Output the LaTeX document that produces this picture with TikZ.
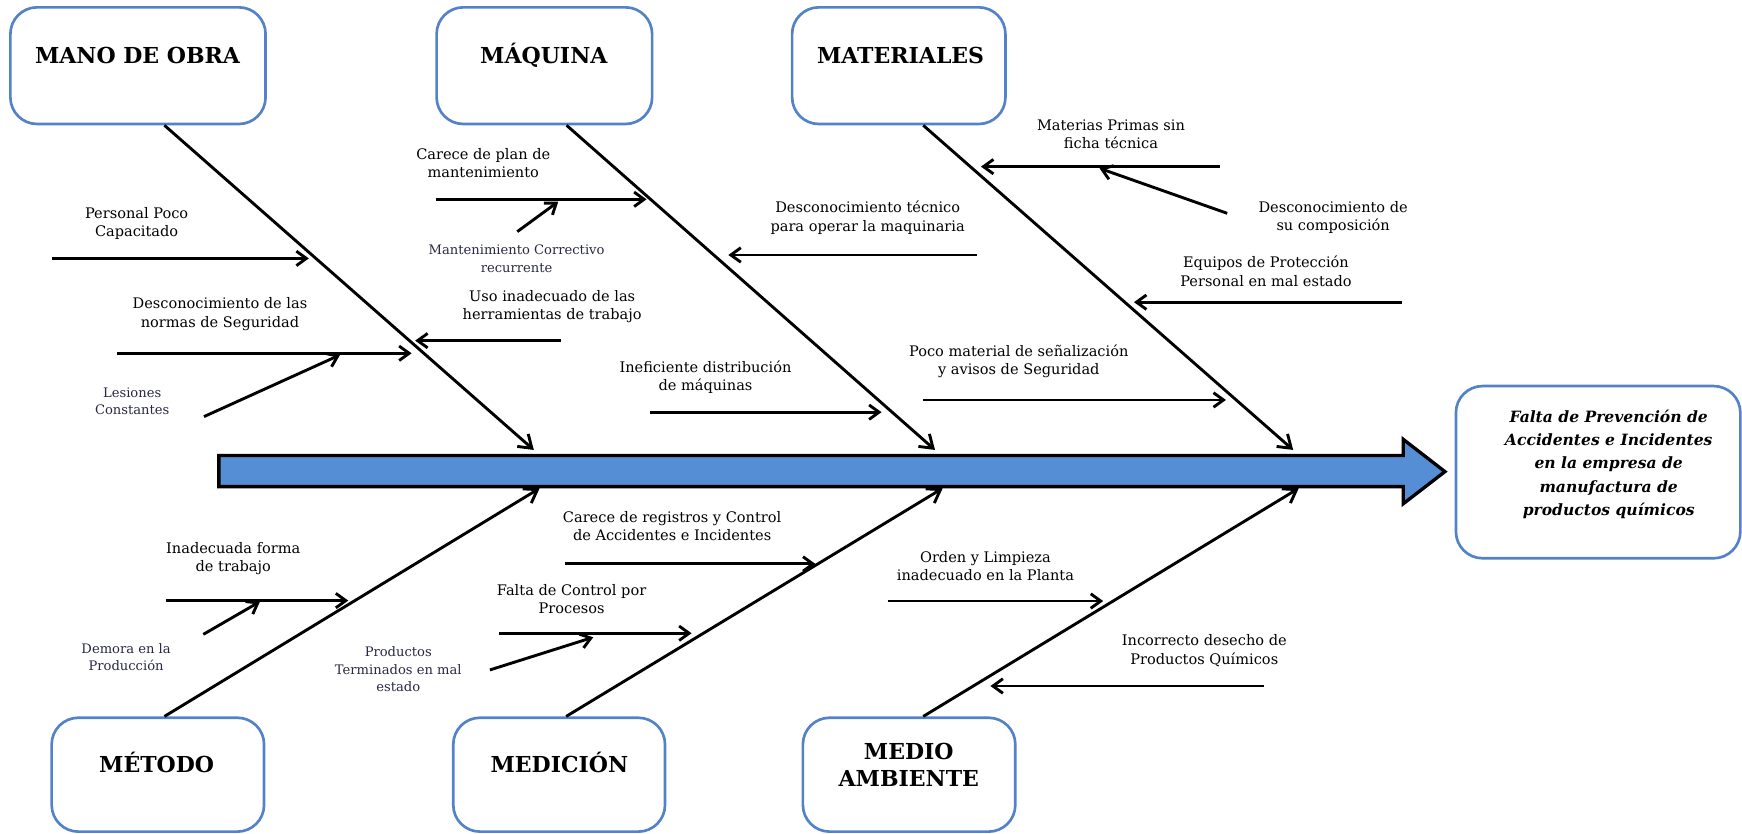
\documentclass[tikz,border=0pt]{standalone}
\usepackage{fontspec}
\setmainfont{DejaVu Serif}
\usetikzlibrary{arrows.meta}
\definecolor{boxblue}{RGB}{84,130,200}
\definecolor{spineblue}{RGB}{85,142,213}
\definecolor{smalltxt}{RGB}{40,40,70}
\begin{document}
\begin{tikzpicture}[x=1pt,y=-1pt,
  catbox/.style={draw=boxblue, line width=2.4pt, rounded corners=24pt, inner sep=0pt, minimum height=105pt},
  lowbox/.style={catbox, minimum height=102.5pt},
  title/.style={font=\fontsize{19.8}{24.6}\selectfont\bfseries, inner sep=0pt, align=center},
  lbl/.style={font=\fontsize{13.1}{16.5}\selectfont, inner sep=0pt, align=center},
  small/.style={font=\fontsize{11.8}{15.6}\selectfont, text=smalltxt, inner sep=0pt, align=center},
  bone/.style={line width=2.6pt, -{Straight Barb[length=11pt,width=15pt]}},
  cause/.style={line width=2.6pt, -{Straight Barb[length=9pt,width=13pt]}},
  restxt/.style={font=\fontsize{14}{21}\selectfont\bfseries\itshape, inner sep=0pt, align=center}
]
\useasboundingbox (0,0) rectangle (1568,750);

% category boxes
\node[catbox, minimum width=229.7pt] (mano) at (124.2,59.1) {};
\node[catbox, minimum width=194pt] (maq) at (490,59.1) {};
\node[catbox, minimum width=192pt] (mat) at (809,59.1) {};
\node[lowbox, minimum width=191.2pt] (metodo) at (142.1,697.3) {};
\node[lowbox, minimum width=190.6pt] (medicion) at (503.3,697.3) {};
\node[lowbox, minimum width=191.2pt] (medio) at (818.3,697.3) {};
\node[catbox, minimum width=256pt, minimum height=155pt] (result) at (1438.5,425) {};

% titles
\node[title, anchor=base] (tmano) at (123.8,57) {MANO DE OBRA};
\node[title, anchor=base] (tmaq) at (489.5,57) {MÁQUINA};
\node[title, anchor=base] (tmat) at (810.6,57) {MATERIALES};
\node[title, anchor=base] (tmet) at (141,695.5) {MÉTODO};
\node[title, anchor=base] (tmed) at (503.5,695.5) {MEDICIÓN};
\node[title] (tmedio) at (818,688.2) {MEDIO\\AMBIENTE};
\node[restxt] (tres) at (1448,418) {Falta de Prevención de\\Accidentes e Incidentes\\en la empresa de\\manufactura de\\productos químicos};

% spine
\draw[line width=3pt, fill=spineblue, line join=miter] (197,410) -- (1263,410) -- (1263,395.4) -- (1300.6,424.5) -- (1263,453.5) -- (1263,438) -- (197,438) -- cycle;

% branch ends
\coordinate (manoS) at ([xshift=23.8pt]mano.south);
\coordinate (maqS) at ([xshift=20pt]maq.south);
\coordinate (matS) at ([xshift=22pt]mat.south);
\coordinate (metN) at ([xshift=5.9pt]metodo.north);
\coordinate (medN) at ([xshift=6.3pt]medicion.north);
\coordinate (medioN) at ([xshift=12.7pt]medio.north);
\coordinate (e1) at (480.5,405);
\coordinate (e2) at (841.6,405);
\coordinate (e3) at (1164,405);
\coordinate (e4) at (485.7,439.5);
\coordinate (e5) at (848.5,439.5);
\coordinate (e6) at (1169,439.5);
\draw[bone] (manoS) -- (e1);
\draw[bone] (maqS) -- (e2);
\draw[bone] (matS) -- (e3);
\draw[bone] (metN) -- (e4);
\draw[bone] (medN) -- (e5);
\draw[bone] (medioN) -- (e6);

% MANO DE OBRA causes
\node[lbl] (l1) at (123,201) {Personal Poco\\Capacitado};
\coordinate (a1s) at (46.5,232.6); \coordinate (a1e) at (278,232.6);
\draw[cause] (a1s) -- (a1e);
\node[lbl] (l2) at (198,282.7) {Desconocimiento de las\\normas de Seguridad};
\coordinate (a2s) at (105,318); \coordinate (a2e) at (370.5,318);
\draw[cause] (a2s) -- (a2e);
\node[small] (l3) at (119,361.2) {Lesiones\\Constantes};
\coordinate (a3s) at (183.6,375); \coordinate (a3e) at (306,319.5);
\draw[cause] (a3s) -- (a3e);

% MAQUINA causes
\node[lbl] (l4) at (435,147) {Carece de plan de\\mantenimiento};
\coordinate (a4s) at (392.4,179.4); \coordinate (a4e) at (582,179.4);
\draw[cause] (a4s) -- (a4e);
\node[small] (l5) at (465,233) {Mantenimiento Correctivo\\recurrente};
\coordinate (a5s) at (465.6,208.5); \coordinate (a5e) at (502.5,181.5);
\draw[cause] (a5s) -- (a5e);
\node[lbl] (l6) at (497,276) {Uso inadecuado de las\\herramientas de trabajo};
\coordinate (a6s) at (504.6,306.6); \coordinate (a6e) at (373.7,306.6);
\draw[cause] (a6s) -- (a6e);
\node[lbl] (l7) at (781,195.8) {Desconocimiento técnico\\para operar la maquinaria};
\coordinate (a7s) at (879,229.5); \coordinate (a7e) at (655.6,229.5);
\draw[cause] (a7s) -- (a7e);
\node[lbl] (l8) at (635,339.7) {Ineficiente distribución\\de máquinas};
\coordinate (a8s) at (585,371); \coordinate (a8e) at (793.5,371);
\draw[cause] (a8s) -- (a8e);

% MATERIALES causes
\node[lbl] (l9) at (1000,120.7) {Materias Primas sin\\ficha técnica};
\coordinate (a9s) at (1098,150); \coordinate (a9e) at (883,150);
\draw[cause] (a9s) -- (a9e);
\node[lbl] (l10) at (1200,195.7) {Desconocimiento de\\su composición};
\coordinate (a10s) at (1104.6,192); \coordinate (a10e) at (989.7,151.5);
\draw[cause] (a10s) -- (a10e);
\node[lbl] (l11) at (1139.5,244.3) {Equipos de Protección\\Personal en mal estado};
\coordinate (a11s) at (1262,272); \coordinate (a11e) at (1020.7,272);
\draw[cause] (a11s) -- (a11e);
\node[lbl] (l12) at (917,325.3) {Poco material de señalización\\y avisos de Seguridad};
\coordinate (a12s) at (831,360); \coordinate (a12e) at (1103.5,360);
\draw[cause] (a12s) -- (a12e);

% METODO causes
\node[lbl] (l13) at (210,503) {Inadecuada forma\\de trabajo};
\coordinate (a13s) at (149.4,540.6); \coordinate (a13e) at (313.5,540.6);
\draw[cause] (a13s) -- (a13e);
\node[small] (l14) at (113.5,591.3) {Demora en la\\Producción};
\coordinate (a14s) at (183,571); \coordinate (a14e) at (234,541.5);
\draw[cause] (a14s) -- (a14e);

% MEDICION causes
\node[lbl] (l15) at (605,473.8) {Carece de registros y Control\\de Accidentes e Incidentes};
\coordinate (a15s) at (509,507.6); \coordinate (a15e) at (734,507.6);
\draw[cause] (a15s) -- (a15e);
\node[lbl] (l16) at (514.5,539.2) {Falta de Control por\\Procesos};
\coordinate (a16s) at (449.4,570); \coordinate (a16e) at (622.5,570);
\draw[cause] (a16s) -- (a16e);
\node[small] (l17) at (358.5,602.3) {Productos\\Terminados en mal\\estado};
\coordinate (a17s) at (441,603); \coordinate (a17e) at (534,573.6);
\draw[cause] (a17s) -- (a17e);

% MEDIO AMBIENTE causes
\node[lbl] (l18) at (887,509.8) {Orden y Limpieza\\inadecuado en la Planta};
\coordinate (a18s) at (799,541); \coordinate (a18e) at (993,541);
\draw[cause] (a18s) -- (a18e);
\node[lbl] (l19) at (1084,585.7) {Incorrecto desecho de\\Productos Químicos};
\coordinate (a19s) at (1137.6,617.5); \coordinate (a19e) at (891.5,617.5);
\draw[cause] (a19s) -- (a19e);
\end{tikzpicture}
\end{document}
